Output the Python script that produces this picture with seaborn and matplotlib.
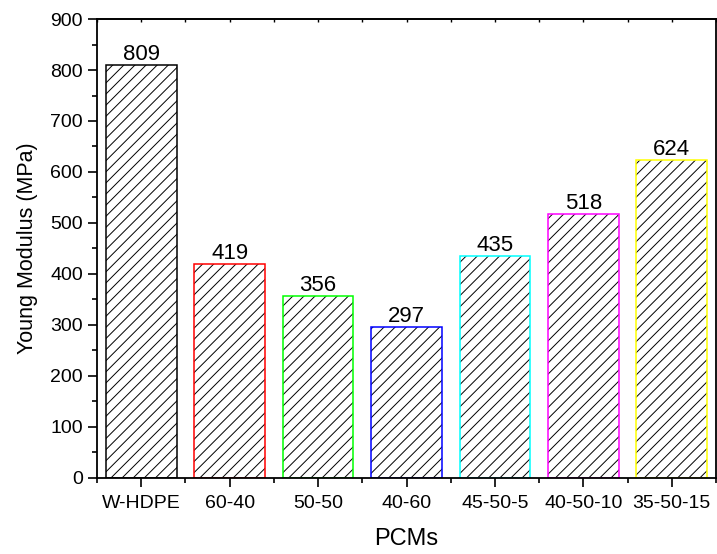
import pandas as pd
import matplotlib.pyplot as plt
import seaborn as sns
from matplotlib.ticker import MultipleLocator

# Young modulus per PCM composition
pcms = ["W-HDPE", "60-40", "50-50", "40-60", "45-50-5", "40-50-10", "35-50-15"]
modulus = [809, 419, 356, 297, 435, 518, 624]
edge_colors = ["#000000", "#FF0000", "#00FF00", "#0000FF", "#00FFFF", "#FF00FF", "#FFFF00"]

df = pd.DataFrame({"PCMs": pcms, "Modulus": modulus})

sns.set_style("ticks")
plt.rcParams['font.family'] = ['Liberation Sans', 'DejaVu Sans']
plt.rcParams['hatch.linewidth'] = 0.7
plt.rcParams['text.color'] = 'black'
plt.rcParams['axes.labelcolor'] = 'black'
plt.rcParams['xtick.color'] = 'black'
plt.rcParams['ytick.color'] = 'black'

fig = plt.figure(figsize=(7.17, 5.54), dpi=100)
ax = fig.add_axes([0.1353, 0.1372, 0.8633, 0.8285])

# hatched white bars (black hatch)
sns.barplot(data=df, x="PCMs", y="Modulus", color="white", edgecolor="black",
            hatch="///", linewidth=0, width=0.8, ax=ax)
# coloured outlines on top
sns.barplot(data=df, x="PCMs", y="Modulus", hue="PCMs", palette=edge_colors,
            fill=False, linewidth=1.1, width=0.8, legend=False, ax=ax)

for cont in ax.containers[1:]:
    ax.bar_label(cont, fontsize=16, padding=0)

ax.set_ylim(0, 900)
ax.set_xlim(-0.5, 6.5)
ax.yaxis.set_major_locator(MultipleLocator(100))
ax.yaxis.set_minor_locator(MultipleLocator(50))
ax.xaxis.set_minor_locator(MultipleLocator(0.5))

ax.set_xlabel("PCMs", fontsize=17, labelpad=11)
ax.set_ylabel("Young Modulus (MPa)", fontsize=15.5, labelpad=9)
ax.tick_params(axis="both", which="major", labelsize=14, length=6.5, width=1.2,
               direction="out", colors="black")
ax.tick_params(axis="both", which="minor", length=3.5, width=1.2, direction="out")
ax.tick_params(axis="x", which="major", pad=6)

for s in ax.spines.values():
    s.set_linewidth(1.3)
    s.set_color("black")

# small inward ticks on the top spine
top = ax.secondary_xaxis("top")
top.set_xticks([i * 0.5 for i in range(-1, 14)])
top.tick_params(direction="in", length=2, width=1, labeltop=False)
top.spines["top"].set_linewidth(1.3)

fig.savefig("out.png", dpi=100)
